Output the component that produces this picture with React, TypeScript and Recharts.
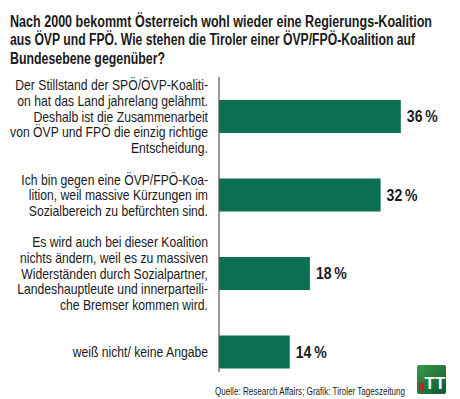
import { BarChart, Bar, XAxis, YAxis, LabelList, Cell } from 'recharts'

const TITLE = [
  'Nach 2000 bekommt Österreich wohl wieder eine Regierungs-Koalition',
  'aus ÖVP und FPÖ. Wie stehen die Tiroler einer ÖVP/FPÖ-Koalition auf',
  'Bundesebene gegenüber?',
]
const TITLE_WIDTHS = [422, 405, 155]

const answers = [
  'Der Stillstand der SPÖ/ÖVP-Koaliti-\non hat das Land jahrelang gelähmt.\nDeshalb ist die Zusammenarbeit\nvon ÖVP und FPÖ die einzig richtige\nEntscheidung.',
  'Ich bin gegen eine ÖVP/FPÖ-Koa-\nlition, weil massive Kürzungen im\nSozialbereich zu befürchten sind.',
  'Es wird auch bei dieser Koalition\nnichts ändern, weil es zu massiven\nWiderständen durch Sozialpartner,\nLandeshauptleute und innerparteili-\nche Bremser kommen wird.',
  'weiß nicht/ keine Angabe',
]
const percent = [36, 32, 18, 14]

const SOURCE = 'Quelle: Research Affairs; Grafik: Tiroler Tageszeitung'

const GREEN = '#0b6f52'
const FONT = "'Liberation Sans', Arial, sans-serif"
const SQUEEZE = 0.84

const data = answers.map((a, i) => ({ name: a, value: percent[i] }))

function AnswerTick(props: any) {
  const { x, y, payload } = props
  const lines: string[] = String(payload.value).split('\n')
  const lh = 15.6
  const first = -((lines.length - 1) * lh) / 2
  return (
    <g transform={`translate(${x},${y}) scale(${SQUEEZE},1)`}>
      <text x={0} y={first} textAnchor="end" fontFamily={FONT} fontSize={14.5} fill="#1a1a1a" dominantBaseline="central">
        {lines.map((l, i) => (
          <tspan key={i} x={0} y={first + i * lh}>{l}</tspan>
        ))}
      </text>
    </g>
  )
}

function ValueLabel(props: any) {
  const { x, y, width, height, value } = props
  const lx = x + width + 6
  const ly = y + height / 2
  return (
    <g transform={`translate(${lx},${ly}) scale(0.88,1)`}>
      <text x={0} y={0} dominantBaseline="central" fontFamily={FONT} fontSize={16} fontWeight={700} fill="#1a1a1a">
        {`${value}\u202F%`}
      </text>
    </g>
  )
}

export default function App() {
  return (
    <div style={{ position: 'absolute', left: 0, top: 0, width: 460, height: 399, background: '#fff' }}>
      <BarChart
        width={460}
        height={399}
        data={data}
        layout="vertical"
        margin={{ top: 77, right: 39, left: 0, bottom: 8 }}
      >
        <XAxis type="number" domain={[0, 40]} hide />
        <YAxis
          type="category"
          dataKey="name"
          width={219}
          tickLine={false}
          tickMargin={5}
          axisLine={{ stroke: '#555', strokeWidth: 1.2, strokeDasharray: '295 200' }}
          tick={<AnswerTick />}
          interval={0}
        />
        <Bar dataKey="value" barSize={33} isAnimationActive={false}>
          {data.map((_, i) => <Cell key={i} fill={GREEN} />)}
          <LabelList dataKey="value" content={<ValueLabel />} />
        </Bar>
      </BarChart>
      <svg width={460} height={399} style={{ position: 'absolute', left: 0, top: 0, pointerEvents: 'none' }}>
        {TITLE.map((t, i) => (
          <text
            key={i}
            x={10}
            y={26.5 + i * 18.5}
            fontFamily={FONT}
            fontSize={16}
            fontWeight={700}
            fill="#1a1a1a"
            textLength={TITLE_WIDTHS[i]}
            lengthAdjust="spacingAndGlyphs"
          >
            {t}
          </text>
        ))}
        <text x={215} y={395} fontFamily={FONT} fontSize={10.5} fill="#1a1a1a" textLength={190} lengthAdjust="spacingAndGlyphs">
          {SOURCE}
        </text>
        <defs>
          <linearGradient id="logo" x1="0" y1="0" x2="1" y2="1">
            <stop offset="0" stopColor="#3a9a4a" />
            <stop offset="1" stopColor="#0d5a2c" />
          </linearGradient>
        </defs>
        <rect x={417} y={365} width={29} height={29} rx={2} fill="url(#logo)" />
        <rect x={419} y={383} width={5} height={8} fill="#c8202a" />
        <text x={435} y={389} textAnchor="middle" fontFamily={FONT} fontSize={17} fontWeight={700} fill="#fff">TT</text>
      </svg>
    </div>
  )
}
